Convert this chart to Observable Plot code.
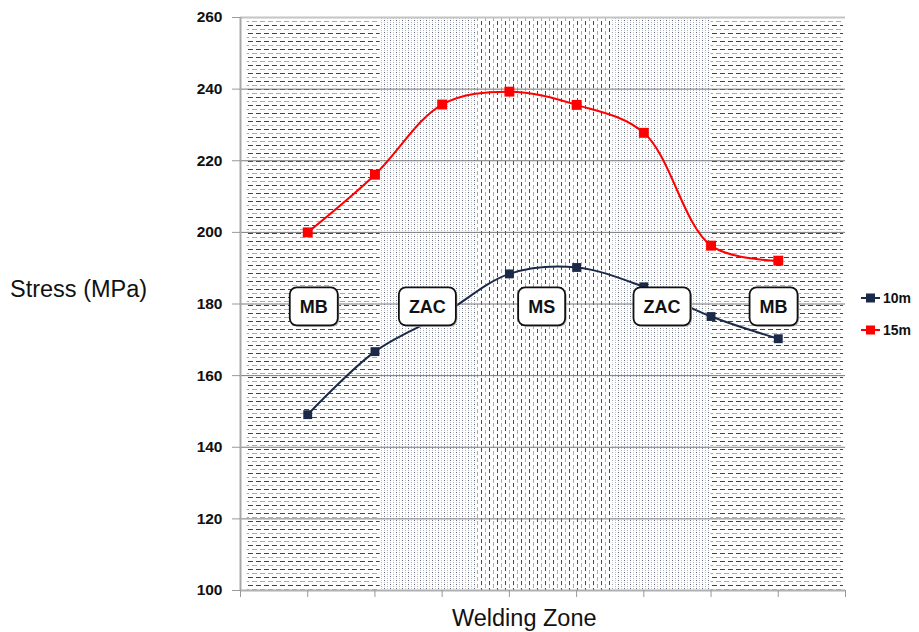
<!DOCTYPE html>
<html><head><meta charset="utf-8">
<script src="https://cdn.jsdelivr.net/npm/d3@7"></script>
<script src="https://cdn.jsdelivr.net/npm/@observablehq/plot@0.6"></script>
<style>
body{margin:0;background:#fff;font-family:"Liberation Sans",Arial,sans-serif;}
#wrap{position:relative;width:919px;height:632px;overflow:hidden;}
.ttl{position:absolute;font-size:23.5px;line-height:1;color:#111;white-space:nowrap;}
.leg{position:absolute;left:861px;font-size:14px;font-weight:bold;line-height:1;display:flex;align-items:center;color:#111;}
.leg svg{margin-right:2px;}
</style></head><body><div id="wrap"></div>
<script>
// ---- data ----
const positions = [1, 2, 3, 4, 5, 6, 7, 8];
const stress10m = [149.1, 166.7, 177.0, 188.4, 190.2, 184.8, 176.5, 170.3];
const stress15m = [200.0, 216.1, 235.7, 239.3, 235.6, 227.8, 196.3, 192.1];
const yTicks = [100, 120, 140, 160, 180, 200, 220, 240, 260];
const xTicks = [0, 1, 2, 3, 4, 5, 6, 7, 8, 9];
const zoneNames = ["MB", "ZAC", "MS", "ZAC", "MB"];
const zoneStart = [0.1, 2.08, 3.5, 5.54, 7.0];
const zoneEnd = [2.08, 3.5, 5.54, 7.0, 8.97];
const zonePattern = ["pMB", "pZAC", "pMS", "pZAC", "pMB"];
const labelX = [1.09, 2.78, 4.48, 6.27, 7.93];
const labelY = 179;
const seriesNames = ["10m", "15m"];
const seriesColors = ["#1b2a48", "#ff0000"];
const yTitle = "Stress (MPa)";
const xTitle = "Welding Zone";

// ---- tables ----
const series = [stress10m, stress15m].map((vals, i) =>
  positions.map((p, j) => ({pos: p, value: vals[j], name: seriesNames[i]})));
const zones = zoneNames.map((n, i) => ({name: n, start: zoneStart[i], end: zoneEnd[i], pattern: zonePattern[i], lx: labelX[i]}));

const font = "'Liberation Sans', Arial, sans-serif";

const plot = Plot.plot({
  width: 919, height: 632,
  marginLeft: 240, marginRight: 74, marginTop: 17, marginBottom: 42,
  style: {fontFamily: font, background: "white", overflow: "visible"},
  x: {domain: [0, 9], axis: null},
  y: {domain: [100, 260], axis: null},
  marks: [
    ...zones.map(z => Plot.rect([z], {x1: "start", x2: "end", y1: () => 100, y2: () => 260, fill: `url(#${z.pattern})`})),
    Plot.ruleY(yTicks.slice(1, -1), {stroke: "#7a7a7a", strokeWidth: 1}),
    Plot.ruleY([260], {stroke: "#c4c4c4", strokeWidth: 2}),
    Plot.ruleY([100], {stroke: "#b0b0b0", strokeWidth: 2}),
    Plot.ruleX([0], {stroke: "#a8a8a8", strokeWidth: 2}),
    Plot.axisY(yTicks, {tickSize: 8, tickPadding: 10, fontSize: 15.5, fontWeight: "bold", stroke: "#999", fill: "#111", label: null}),
    Plot.axisX(xTicks, {tickSize: 7, tickFormat: () => "", stroke: "#999", label: null}),
    ...series.map((s, i) => Plot.line(s, {x: "pos", y: "value", stroke: seriesColors[i], strokeWidth: 2, curve: "catmull-rom"})),
    Plot.dot(series[0], {x: "pos", y: "value", symbol: "square", r: 5, fill: seriesColors[0]}),
    Plot.dot(series[1], {x: "pos", y: "value", symbol: "square", r: 5.6, fill: seriesColors[1]}),
    Plot.text(zones, {x: "lx", y: () => labelY, text: "name", fontSize: 18, fontWeight: "bold", fill: "#111", className: "zone-label"})
  ]
});

const wrap = document.getElementById("wrap");
wrap.appendChild(plot);

// patterns
const svg = d3.select(plot);
const defs = svg.insert("defs", ":first-child");
function pattern(id, w, h, rects) {
  const p = defs.append("pattern").attr("id", id).attr("patternUnits", "userSpaceOnUse").attr("width", w).attr("height", h);
  p.append("rect").attr("width", w).attr("height", h).attr("fill", "#fff");
  rects.forEach(([x, y, rw, rh, c]) => p.append("rect").attr("x", x).attr("y", y).attr("width", rw).attr("height", rh).attr("fill", c));
}
pattern("pMB", 8, 8, [[0, 1, 5, 1, "#34445f"], [4, 5, 4, 1, "#a3acba"], [0, 5, 1, 1, "#a3acba"]]);
pattern("pMS", 8, 7, [[1, 0, 1, 4, "#3a4a66"], [5, 3, 1, 4, "#a3acba"]]);
pattern("pZAC", 6, 4, [[0, 0, 1, 1, "#5d6779"], [3, 2, 1, 1, "#aab1bc"], [0, 2, 1, 1, "#c4c8d0"], [3, 0, 1, 1, "#c4c8d0"]]);

// label boxes
plot.querySelectorAll(".zone-label text").forEach(t => {
  const b = t.getBBox();
  const tr = t.getAttribute("transform");
  const padX = 10, w = b.width + 2 * padX, h = 38;
  const x = b.x - padX, y = b.y + b.height / 2 - h / 2 - 1;
  const ns = "http://www.w3.org/2000/svg";
  const sh = document.createElementNS(ns, "rect");
  const r = document.createElementNS(ns, "rect");
  [[sh, 1.5, 1.5, "#b8b8b8", "none"], [r, 0, 0, "#fff", "#111"]].forEach(([el, dx, dy, f, s]) => {
    el.setAttribute("x", x + dx); el.setAttribute("y", y + dy);
    el.setAttribute("width", w); el.setAttribute("height", h);
    el.setAttribute("rx", 7); el.setAttribute("fill", f);
    if (s !== "none") { el.setAttribute("stroke", s); el.setAttribute("stroke-width", 1.8); }
    if (tr) el.setAttribute("transform", tr);
    t.parentNode.insertBefore(el, t);
  });
});

// titles
const yt = document.createElement("div");
yt.className = "ttl"; yt.textContent = yTitle; yt.style.left = "10px"; yt.style.top = "278px";
wrap.appendChild(yt);
const xt = document.createElement("div");
xt.className = "ttl"; xt.textContent = xTitle; xt.style.left = "452px"; xt.style.top = "607px";
wrap.appendChild(xt);

// legend
seriesNames.forEach((n, i) => {
  const d = document.createElement("div");
  d.className = "leg";
  d.style.top = (291 + i * 32) + "px";
  d.innerHTML = `<svg width="20" height="12"><line x1="0" x2="19" y1="6" y2="6" stroke="${seriesColors[i]}" stroke-width="2"/><rect x="5" y="1.5" width="9" height="9" fill="${seriesColors[i]}"/></svg><span>${n}</span>`;
  wrap.appendChild(d);
});
</script>
</body></html>
